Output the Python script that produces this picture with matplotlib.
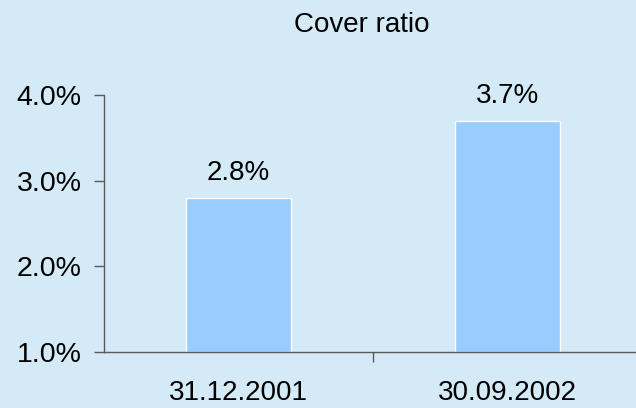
import matplotlib
matplotlib.use("Agg")
import matplotlib.pyplot as plt
from matplotlib.ticker import FixedLocator

dates = ["31.12.2001", "30.09.2002"]
cover_ratio = [2.8, 3.7]
y_ticks = [1.0, 2.0, 3.0, 4.0]

BG = "#d4eaf6"
BAR = "#99ccff"
AXIS = "#5a5a5a"

plt.rcParams["font.family"] = ["Liberation Sans", "DejaVu Sans"]

fig = plt.figure(figsize=(6.36, 4.08), dpi=100, facecolor=BG)
ax = fig.add_axes([104 / 636, 1 - 352 / 408, 532 / 636, (352 - 95) / 408])
ax.set_facecolor(BG)

x = list(range(len(dates)))
ax.bar(x, [v - 1.0 for v in cover_ratio], bottom=1.0, width=0.39,
       color=BAR, edgecolor="white", linewidth=1.0, zorder=2)
for xi, v in zip(x, cover_ratio):
    ax.annotate(f"{v:.1f}%", (xi, v), xytext=(0, 8.5), textcoords="offset points",
                ha="center", va="bottom", fontsize=20)

ax.set_xlim(-0.5, -0.5 + 532 / 269)
ax.set_ylim(1.0, 4.0)
ax.set_yticks(y_ticks)
ax.set_yticklabels([f"{t:.1f}%" for t in y_ticks])
ax.set_xticks(x)
ax.set_xticklabels(dates)
ax.xaxis.set_minor_locator(FixedLocator([0.5]))

for side in ("top", "right"):
    ax.spines[side].set_visible(False)
for side in ("left", "bottom"):
    ax.spines[side].set_color(AXIS)
    ax.spines[side].set_linewidth(1.0)

ax.tick_params(axis="y", direction="out", length=7, width=1.0, color=AXIS,
               labelsize=20.5, pad=9)
ax.tick_params(axis="x", which="major", length=0, labelsize=20, pad=20)
ax.tick_params(axis="x", which="minor", direction="out", length=7, width=1.0,
               color=AXIS)

fig.text(362 / 636, 1 - 25 / 408, "Cover ratio", ha="center", va="center",
         fontsize=20)

fig.savefig("out.png", dpi=100, facecolor=BG)
